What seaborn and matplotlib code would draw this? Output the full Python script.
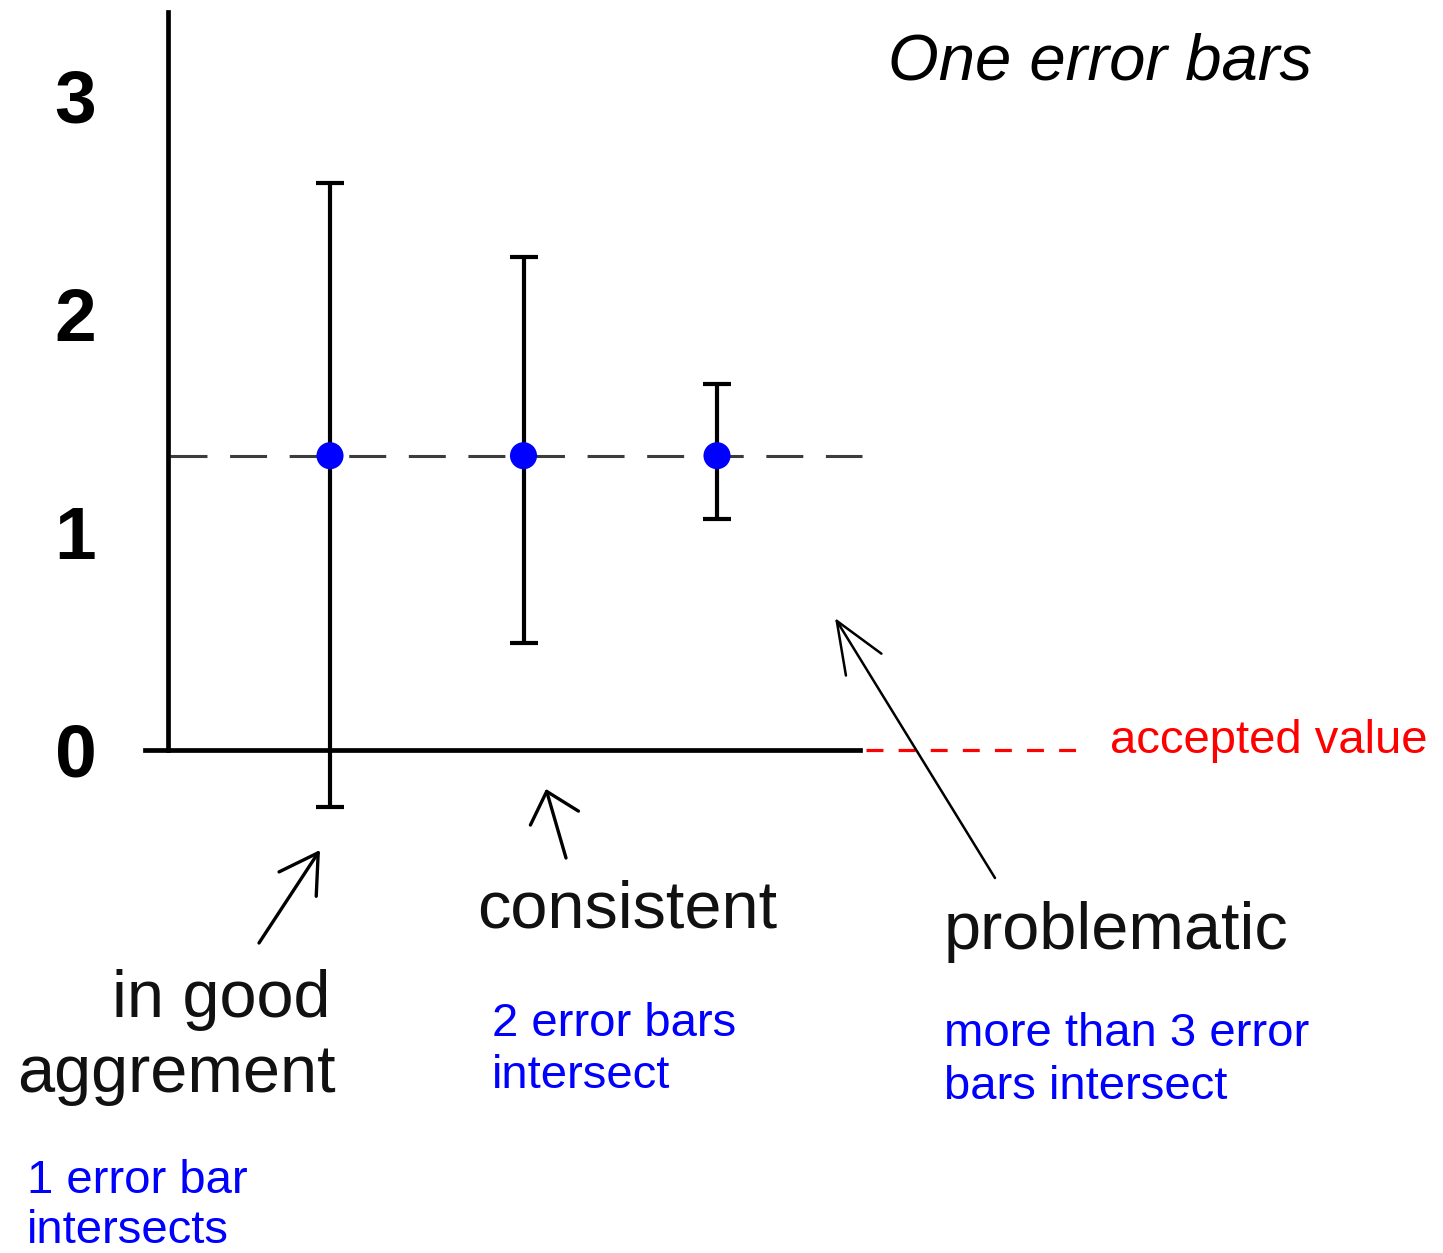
import numpy as np
import matplotlib
matplotlib.use("Agg")
import matplotlib.pyplot as plt
import seaborn as sns

# ---- data -------------------------------------------------------------
positions = [1, 2, 3]
measured = [1.35, 1.35, 1.35]
upper = [2.60, 2.26, 1.68]
lower = [-0.26, 0.49, 1.06]
accepted_value = 0.0
y_ticks = [0, 1, 2, 3]
y_tick_labels = ["0", "1", "2", "3"]

verdicts = [["in good", "aggrement"], ["consistent"], ["problematic"]]
notes = [["1 error bar", "intersects"],
         ["2 error bars", "intersect"],
         ["more than 3 error", "bars intersect"]]
title = "One error bars"
accepted_label = "accepted value"

# ---- figure / axes ----------------------------------------------------
W, H = 1443, 1253
sns.set_style("white")
plt.rcParams["font.family"] = ["Liberation Sans", "DejaVu Sans"]

fig = plt.figure(figsize=(W / 100, H / 100), dpi=100)
ax = fig.add_axes([0, 0, 1, 1])
ax.set_facecolor("white")

# screen layout: one x unit = 193.5 px, one y unit = 218 px
X_UNIT, Y_UNIT = 193.5, 218.0
X0_PX, Y0_PX = 330.0, 750.0


def dx(px):
    return 1 + (px - X0_PX) / X_UNIT


def dy(py):
    return (Y0_PX - py) / Y_UNIT


def fp(px, py):
    """figure fraction from pixel position measured from the top-left"""
    return (px / W, 1 - py / H)


ax.set_xlim(dx(0), dx(W))
ax.set_ylim(dy(H), dy(0))

# axis lines
for side in ["top", "right"]:
    ax.spines[side].set_visible(False)
ax.spines["left"].set_position(("data", dx(168)))
ax.spines["left"].set_bounds(accepted_value, dy(12))
ax.spines["bottom"].set_position(("data", accepted_value))
ax.spines["bottom"].set_bounds(dx(145), dx(860))
for side in ["left", "bottom"]:
    ax.spines[side].set_linewidth(3.4)
    ax.spines[side].set_color("black")

ax.set_xticks([])
ax.set_yticks(y_ticks, y_tick_labels)
ax.tick_params(axis="y", direction="out", length=14.5, width=3.4,
               pad=37, labelsize=54, color="black", labelcolor="black")
for lab in ax.get_yticklabels():
    lab.set_fontweight("bold")

# reference line through the measured value
ax.hlines(np.mean(measured), dx(170), dx(862), colors="#3c3c3c",
          linewidth=2.2, linestyles=(0, (12.1, 7.4)), zorder=2)

# accepted value marker continuing the zero line
ax.hlines(accepted_value, dx(866), dx(1077), colors="#ff0000",
          linewidth=2.3, linestyles=(0, (5.3, 4.75)), zorder=2)

# error bars and measured points
yerr = [np.subtract(measured, lower), np.subtract(upper, measured)]
ax.errorbar(positions, measured, yerr=yerr, fmt="none", ecolor="black",
            elinewidth=3.0, capsize=10, capthick=3.0, zorder=3)
sns.scatterplot(x=positions, y=measured, color="#0000ff", s=380,
                edgecolor="none", linewidth=0, zorder=4, ax=ax, legend=False)
ax.set_xlabel("")
ax.set_ylabel("")

# ---- annotations ------------------------------------------------------
fig.text(*fp(888, 79), title, fontsize=47, style="italic",
         ha="left", va="baseline", color="black")
fig.text(*fp(1110, 753), accepted_label, fontsize=34, color="#ff0000",
         ha="left", va="baseline")

big = dict(fontsize=48, color="#111111", va="baseline")
fig.text(*fp(331, 1017), verdicts[0][0], ha="right", **big)
fig.text(*fp(336, 1092), verdicts[0][1], ha="right", **big)
fig.text(*fp(477, 927), verdicts[1][0], ha="left", **big)
fig.text(*fp(944, 949), verdicts[2][0], ha="left", **big)

small = dict(fontsize=34, color="#0000ff", va="baseline", ha="left")
fig.text(*fp(27, 1193), notes[0][0], **small)
fig.text(*fp(27, 1243), notes[0][1], **small)
fig.text(*fp(492, 1036), notes[1][0], **small)
fig.text(*fp(492, 1088), notes[1][1], **small)
fig.text(*fp(944, 1046), notes[2][0], **small)
fig.text(*fp(944, 1099), notes[2][1], **small)

arrows = [
    ((320, 850), (259, 943), 2.4, "->,head_length=1.35,head_width=0.8"),
    ((546, 789), (566, 858), 2.4, "->,head_length=1.0,head_width=0.9"),
    ((835, 618), (995, 878), 1.8, "->,head_length=1.85,head_width=0.75"),
]
for head, tail, lw, style in arrows:
    ax.annotate("", xy=fp(*head), xytext=fp(*tail),
                xycoords="figure fraction", textcoords="figure fraction",
                arrowprops=dict(arrowstyle=style, lw=lw, color="black",
                                mutation_scale=20, shrinkA=0, shrinkB=0))

fig.savefig("out.png", dpi=100, facecolor="white")
